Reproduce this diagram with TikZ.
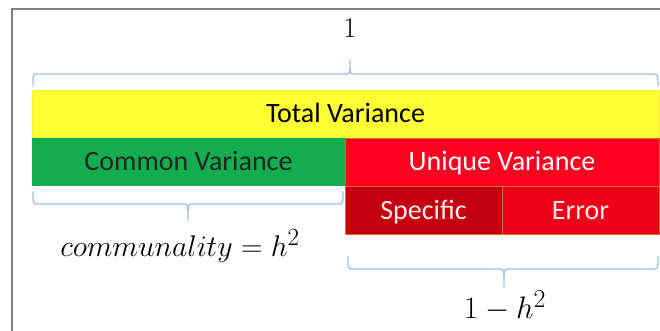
\documentclass[tikz,border=0pt]{standalone}
\usepackage{graphicx}
\usepackage{fontspec}
\setsansfont{Carlito}
\definecolor{cyel}{HTML}{FFFF33}
\definecolor{cgreen}{HTML}{12AD4F}
\definecolor{cunique}{HTML}{FF0020}
\definecolor{cspec}{HTML}{C3000F}
\definecolor{cerr}{HTML}{EE0017}
\definecolor{cedge}{HTML}{D4702C}
\definecolor{cbrace}{HTML}{9DC3E6}
\definecolor{cframe}{HTML}{7F7F7F}
\newcommand{\bigmath}[2][1.25]{\scalebox{#1}{\fontsize{24.88}{30}\selectfont$#2$}}
\begin{document}
\begin{tikzpicture}[x=1pt,y=-1pt,
  cell/.style={rectangle,inner sep=0pt,minimum height=48pt,text height=18pt,text depth=0pt,
    font=\sffamily\fontsize{28}{32}\selectfont},
  bracestyle/.style={draw=cbrace,line width=1.3pt},
  mathlab/.style={inner sep=0pt}]
\useasboundingbox (0,0) rectangle (660,331);
% frame
\draw[cframe,line width=1.5pt] (12,331) -- (12,9) -- (662,9);
% cells
\node[cell,fill=cyel,draw=cyel!80!black!30!cyel,minimum width=627pt,text=black] (total) at (345.5,114) {Total Variance};
\node[cell,fill=cgreen,minimum width=313pt,text=black!85] (common) at (188.5,162) {Common Variance};
\node[cell,fill=cunique,draw=cedge,line width=0.6pt,minimum width=314pt,text=white] (unique) at (502,162) {Unique Variance};
\node[cell,fill=cspec,draw=cedge,line width=0.6pt,minimum width=157pt,text=white!92!red] (spec) at (423.5,210) {Specific};
\node[cell,fill=cerr,draw=cedge,line width=0.6pt,minimum width=157pt,text=white!92!red] (err) at (580.5,210) {Error};
% braces
\draw[bracestyle] (33,86) .. controls (33,74) .. (38,74) -- (346,74) .. controls (350,74) .. (350,60)
  .. controls (350,74) .. (354,74) -- (653,74) .. controls (658,74) .. (658,86);
\draw[bracestyle] (33,191) .. controls (33,204) .. (38,204) -- (184,204) .. controls (188,204) .. (188,221)
  .. controls (188,204) .. (192,204) -- (338,204) .. controls (343,204) .. (343,191);
\draw[bracestyle] (348,256) .. controls (348,269) .. (353,269) -- (500,269) .. controls (504,269) .. (504,287)
  .. controls (504,269) .. (508,269) -- (653,269) .. controls (658,269) .. (658,256);
% labels
\node[mathlab] (one) at (350,28) {\bigmath[1.15]{1}};
\node[mathlab] (comm) at (180,246) {\bigmath[1.2]{communality = h^2}};
\node[mathlab] (rest) at (505,306) {\bigmath{1 - h^2}};
\end{tikzpicture}
\end{document}
